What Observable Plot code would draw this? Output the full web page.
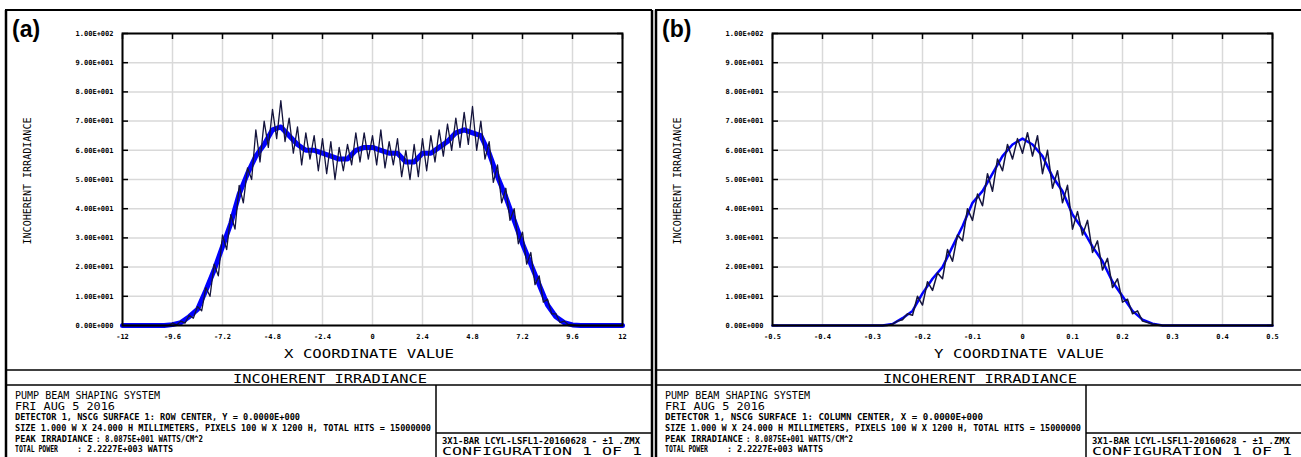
<!DOCTYPE html>
<html>
<head>
<meta charset="utf-8">
<script src="https://cdn.jsdelivr.net/npm/d3@7"></script>
<script src="https://cdn.jsdelivr.net/npm/@observablehq/plot@0.6"></script>
<style>
  html, body { margin: 0; padding: 0; background: #fff; }
  #page { position: relative; width: 1301px; height: 457px; overflow: hidden; background: #fff; }
  #overlay { position: absolute; left: 0; top: 0; }
  .plotbox { position: absolute; top: 10px; }
  .plotbox svg { background: transparent; }
</style>
</head>
<body>
<div id="page">
  <svg id="overlay" width="1301" height="457"></svg>
  <div id="plotA" class="plotbox" style="left:5px"></div>
  <div id="plotB" class="plotbox" style="left:655px"></div>
</div>
<script>
// ---------- data ----------
const yTicks = [0, 10, 20, 30, 40, 50, 60, 70, 80, 90, 100];
const yTickLabels = ["0.00E+000","1.00E+001","2.00E+001","3.00E+001","4.00E+001","5.00E+001","6.00E+001","7.00E+001","8.00E+001","9.00E+001","1.00E+002"];

const xTicksA = [-12, -9.6, -7.2, -4.8, -2.4, 0, 2.4, 4.8, 7.2, 9.6, 12];
const xTickLabelsA = ["-12","-9.6","-7.2","-4.8","-2.4","0","2.4","4.8","7.2","9.6","12"];
const xTicksB = [-0.5, -0.4, -0.3, -0.2, -0.1, 0, 0.1, 0.2, 0.3, 0.4, 0.5];
const xTickLabelsB = ["-0.5","-0.4","-0.3","-0.2","-0.1","0","0.1","0.2","0.3","0.4","0.5"];

// panel (a): smoothed core of the X profile
const coreXA = [-12,-10,-9.6,-9.2,-8.8,-8.4,-8.0,-7.6,-7.2,-6.8,-6.4,-6.0,-5.6,-5.2,-4.8,-4.4,-4.0,-3.6,-3.2,-2.8,-2.4,-2.0,-1.6,-1.2,-0.8,-0.4,0,0.4,0.8,1.2,1.6,2.0,2.4,2.8,3.2,3.6,4.0,4.4,4.8,5.2,5.6,6.0,6.4,6.8,7.2,7.6,8.0,8.4,8.8,9.2,9.6,10,12];
const coreYA = [0,0,0.3,1,3,5.5,12,19,27,35,45,52,58,62,67,68,65,62,60,60,59,58,57,57,60,61,61,60,59,59,56,56,59,59,61,63,66,67,66,65,59,51,44,36,28,21,14,7,3,1,0.2,0,0];
// panel (a): noisy detail (spikes)
const detXA = [-12,-9.8,-9.6,-9.4,-9.2,-9.0,-8.8,-8.6,-8.4,-8.2,-8.0,-7.8,-7.6,-7.4,-7.2,-7.0,-6.8,-6.6,-6.4,-6.2,-6.0,-5.8,-5.6,-5.4,-5.2,-5.0,-4.8,-4.6,-4.4,-4.2,-4.0,-3.8,-3.6,-3.4,-3.2,-3.0,-2.8,-2.6,-2.4,-2.2,-2.0,-1.8,-1.6,-1.4,-1.2,-1.0,-0.8,-0.6,-0.4,-0.2,0,0.2,0.4,0.6,0.8,1.0,1.2,1.4,1.6,1.8,2.0,2.2,2.4,2.6,2.8,3.0,3.2,3.4,3.6,3.8,4.0,4.2,4.4,4.6,4.8,5.0,5.2,5.4,5.6,5.8,6.0,6.2,6.4,6.6,6.8,7.0,7.2,7.4,7.6,7.8,8.0,8.2,8.4,8.6,8.8,9.0,9.2,9.4,9.6,9.8,12];
const detYA = [0,0,0.8,0.2,1.5,0.8,3.5,2.5,6.5,5,13,10,21,17,31,26,38,33,48,42,54,50,67,56,70,61,74,64,77,63,71,59,68,55,66,57,65,53,64,52,63,50,61,53,62,55,66,56,66,57,65,55,67,54,63,55,64,51,60,50,62,51,64,53,65,56,67,58,69,60,71,61,73,62,75,60,70,57,63,49,55,42,47,36,40,28,32,21,25,14,17,8,9,4,4,1,1.5,0.3,0.4,0,0];

// panel (b): smoothed core of the Y profile
const coreXB = [-0.5,-0.3,-0.28,-0.26,-0.24,-0.22,-0.20,-0.18,-0.16,-0.14,-0.12,-0.10,-0.08,-0.06,-0.04,-0.02,0,0.02,0.04,0.06,0.08,0.10,0.12,0.14,0.16,0.18,0.20,0.22,0.24,0.26,0.28,0.3,0.5];
const coreYB = [0,0,0,0.5,2.5,5,11,16,20,27,34,42,46,52,58,62,64,62,58,51,46,38,33,27,22,15,10,5,2,0.6,0,0,0];
// panel (b): noisy detail
const detXB = [-0.5,-0.27,-0.26,-0.25,-0.24,-0.23,-0.22,-0.21,-0.20,-0.19,-0.18,-0.17,-0.16,-0.15,-0.14,-0.13,-0.12,-0.11,-0.10,-0.09,-0.08,-0.07,-0.06,-0.05,-0.04,-0.03,-0.02,-0.01,0,0.01,0.02,0.03,0.04,0.05,0.06,0.07,0.08,0.09,0.10,0.11,0.12,0.13,0.14,0.15,0.16,0.17,0.18,0.19,0.20,0.21,0.22,0.23,0.24,0.25,0.26,0.27,0.28,0.5];
const detYB = [0,0,0.5,1.5,2,4,3.5,10,7,15,12,18,16,26,22,31,29,40,36,45,41,52,46,57,53,62,57,64,59,66,58,65,52,60,47,53,42,48,33,39,31,36,25,29,19,23,13,16,8,9,4,5,1.5,1,0.5,0.3,0,0];

// ---------- chart ----------
const FONT = "'DejaVu Sans Mono', monospace";
function zip(xs, ys) { return xs.map((x, i) => ({x, y: ys[i]})); }

function panel(xTicks, xLabels, coreX, coreY, detX, detY, coreW, detW) {
  const dom = [xTicks[0], xTicks[xTicks.length - 1]];
  return Plot.plot({
    width: 645, height: 360,
    marginLeft: 117, marginRight: 28, marginTop: 23, marginBottom: 45,
    x: {domain: dom},
    y: {domain: [0, 100]},
    style: {background: "transparent", fontFamily: FONT, color: "#000", overflow: "visible"},
    marks: [
      Plot.gridX(xTicks, {stroke: "#d9d9d9", strokeOpacity: 1, strokeWidth: 1.5}),
      Plot.gridY(yTicks, {stroke: "#d9d9d9", strokeOpacity: 1, strokeWidth: 1.5}),
      Plot.axisX(xTicks, {anchor: "bottom", tickSize: 0, tickPadding: 9, label: null,
        tickFormat: d => xLabels[xTicks.indexOf(d)], fontSize: 7, fontWeight: "bold"}),
      Plot.axisX(xTicks, {anchor: "top", tickSize: -5, label: null, tickFormat: () => "", stroke: "#000", strokeWidth: 1.5}),
      Plot.axisY(yTicks, {anchor: "left", tickSize: -6, label: null, tickFormat: () => "", stroke: "#000", strokeWidth: 1.5}),
      Plot.axisY(yTicks, {anchor: "left", tickSize: 0, tickPadding: 9, label: null,
        tickFormat: d => yTickLabels[yTicks.indexOf(d)], fontSize: 7, fontWeight: "bold", letterSpacing: "0.35px"}),
      Plot.axisY(yTicks, {anchor: "right", tickSize: -6, label: null, tickFormat: () => "", stroke: "#000", strokeWidth: 1.5}),
      Plot.line(zip(coreX, coreY), {x: "x", y: "y", stroke: "#0000ff", strokeWidth: coreW}),
      Plot.line(zip(detX, detY), {x: "x", y: "y", stroke: "#14143c", strokeWidth: detW}),
      Plot.frame({stroke: "#000", strokeWidth: 2})
    ]
  });
}

document.getElementById("plotA").append(panel(xTicksA, xTickLabelsA, coreXA, coreYA, detXA, detYA, 5, 1.3));
document.getElementById("plotB").append(panel(xTicksB, xTickLabelsB, coreXB, coreYB, detXB, detYB, 2.5, 1.5));

// ---------- frame / text block ----------
const svg = d3.select("#overlay");
function line(x1, y1, x2, y2, w) {
  svg.append("line").attr("x1", x1).attr("y1", y1).attr("x2", x2).attr("y2", y2)
    .attr("stroke", "#000").attr("stroke-width", w);
}
function text(x, y, s, size, len, opts = {}) {
  const t = svg.append("text").attr("x", x).attr("y", y).text(s)
    .attr("font-family", opts.family || FONT).attr("font-size", size)
    .attr("font-weight", opts.weight || "normal").attr("fill", "#000");
  if (len) t.attr("textLength", len).attr("lengthAdjust", "spacingAndGlyphs");
  if (opts.anchor) t.attr("text-anchor", opts.anchor);
  if (opts.rotate) t.attr("transform", `rotate(-90 ${x} ${y})`);
  return t;
}

const panels = [
  {ox: 0, right: 652, tag: "(a)", axis: "X COORDINATE VALUE", axLen: 170,
   det: "DETECTOR 1, NSCG SURFACE 1: ROW CENTER, Y = 0.0000E+000", detLen: 285},
  {ox: 650, right: 1301, tag: "(b)", axis: "Y COORDINATE VALUE", axLen: 170,
   det: "DETECTOR 1, NSCG SURFACE 1: COLUMN CENTER, X = 0.0000E+000", detLen: 318}
];

panels.forEach(p => {
  const o = p.ox;
  // outer box
  line(o + 5, 10, p.right, 10, 2);
  line(o + 6, 10, o + 6, 457, 2.5);
  if (p.right < 1300) line(p.right, 10, p.right, 457, 2.5);
  // band lines
  line(o + 6, 370, p.right, 370, 1.5);
  line(o + 6, 385, p.right, 385, 1.5);
  line(o + 436, 385, o + 436, 457, 1.5);
  line(o + 436, 433, p.right, 433, 1.5);

  text(o + 12, 37, p.tag, 23, null, {family: "'Liberation Sans', Arial, sans-serif", weight: "bold"});
  text(o + 31, 181, "INCOHERENT IRRADIANCE", 10, 127, {anchor: "middle", rotate: true});
  text(o + 284, 358, p.axis, 12, p.axLen);
  text(o + 233, 382.5, "INCOHERENT IRRADIANCE", 12, 194);

  text(o + 15, 398.5, "PUMP BEAM SHAPING SYSTEM", 10, 145);
  text(o + 15, 409.5, "FRI AUG 5 2016", 10, 100);
  text(o + 15, 420, p.det, 8, p.detLen, {weight: "bold"});
  text(o + 15, 430.5, "SIZE 1.000 W X 24.000 H MILLIMETERS, PIXELS 100 W X 1200 H, TOTAL HITS = 15000000", 8, 416, {weight: "bold"});
  text(o + 15, 441.5, "PEAK IRRADIANCE", 8, 78, {weight: "bold"});
  text(o + 96, 441.5, ": 8.0875E+001 WATTS/CM^2", 8, 107, {weight: "bold"});
  text(o + 15, 452, "TOTAL POWER", 8, 43, {weight: "bold"});
  text(o + 77, 452, ": 2.2227E+003 WATTS", 8, 96, {weight: "bold"});

  text(o + 442, 444, "3X1-BAR LCYL-LSFL1-20160628 -  \u00b11 .ZMX", 9, 198, {weight: "bold"});
  text(o + 442, 455, "CONFIGURATION 1 OF 1", 11, 200);
});
</script>
</body>
</html>
